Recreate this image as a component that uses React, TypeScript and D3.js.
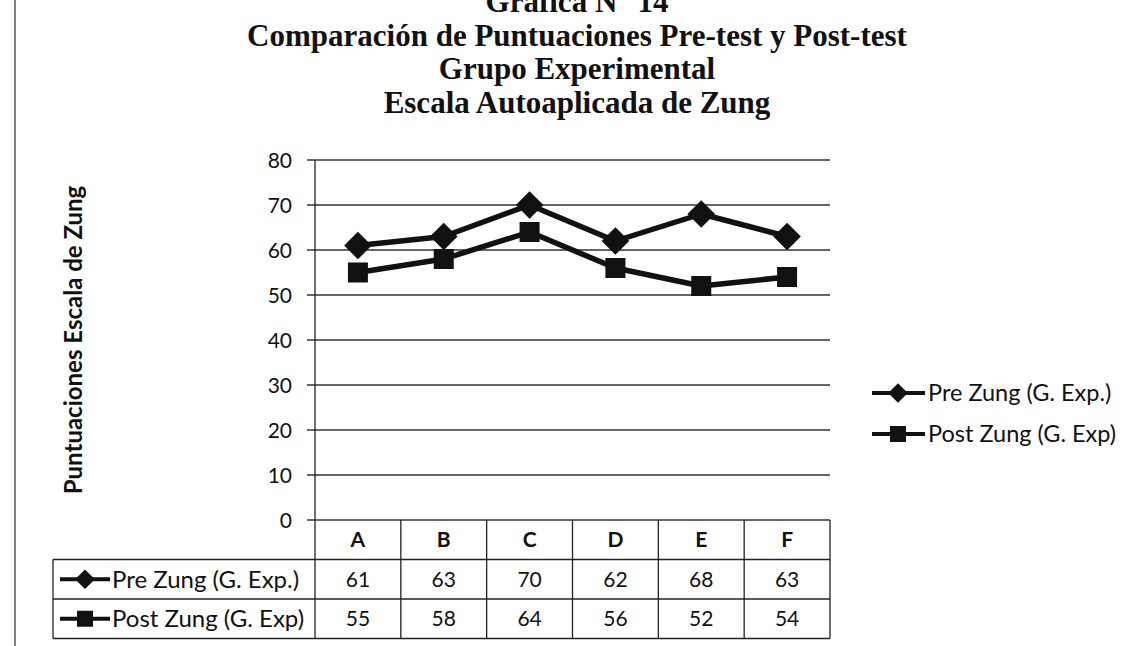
import React from "react";
import * as d3 from "d3";

const categories = ["A", "B", "C", "D", "E", "F"];
const preValues = [61, 63, 70, 62, 68, 63];
const postValues = [55, 58, 64, 56, 52, 54];
const yTicks = [0, 10, 20, 30, 40, 50, 60, 70, 80];
const seriesNames = ["Pre Zung (G. Exp.)", "Post Zung (G. Exp)"];
const titleLines = [
  "Gráfica N° 14",
  "Comparación de Puntuaciones Pre-test y Post-test",
  "Grupo Experimental",
  "Escala Autoaplicada de Zung",
];
const yTitle = "Puntuaciones Escala de Zung";

const W = 1127;
const H = 646;
const plot = { left: 315, right: 830, top: 160, bottom: 520 };
const rowH = 39.5;
const tableLeft = 53;
const sans = "Lato, 'Open Sans', sans-serif";
const ink = "#111";

function Marker({ kind, x, y, s }: { kind: string; x: number; y: number; s: number }) {
  if (kind === "diamond") {
    const p = d3.symbol(d3.symbolDiamond2, s * s * 1.1)();
    return <path d={p || ""} transform={`translate(${x},${y})`} fill={ink} />;
  }
  return <rect x={x - s / 2} y={y - s / 2} width={s} height={s} fill={ink} />;
}

export default function App() {
  const x = d3.scaleBand<string>().domain(categories).range([plot.left, plot.right]);
  const y = d3.scaleLinear().domain([0, 80]).range([plot.bottom, plot.top]);
  const cx = (c: string) => (x(c) as number) + x.bandwidth() / 2;
  const line = d3
    .line<number>()
    .x((_, i) => cx(categories[i]))
    .y((d) => y(d));

  const series = [
    { name: seriesNames[0], values: preValues, kind: "diamond", size: 21 },
    { name: seriesNames[1], values: postValues, kind: "square", size: 20 },
  ];

  const tableRowsY = [plot.bottom, plot.bottom + rowH, plot.bottom + 2 * rowH, plot.bottom + 3 * rowH];

  return (
    <svg
      width={W}
      height={H}
      style={{ position: "absolute", left: 0, top: 0, background: "#fff" }}
      xmlns="http://www.w3.org/2000/svg"
    >
      <rect width={W} height={H} fill="#fff" />
      {/* page edge */}
      <line x1={15} x2={15} y1={0} y2={H} stroke="#555" strokeWidth={1.5} />

      {/* titles */}
      {titleLines.map((t, i) => (
        <text
          key={t}
          x={577}
          y={12 + i * 33.5}
          textAnchor="middle"
          fontFamily="'Liberation Serif', 'Times New Roman', serif"
          fontWeight="bold"
          fontSize={31}
          fill={ink}
        >
          {t}
        </text>
      ))}

      {/* grid + ticks */}
      {yTicks.map((t) => (
        <g key={t}>
          <line
            x1={plot.left - 8}
            x2={plot.right}
            y1={y(t)}
            y2={y(t)}
            stroke="#333"
            strokeWidth={1.3}
          />
          <text
            x={292}
            y={y(t)}
            dy="0.36em"
            textAnchor="end"
            fontFamily={sans}
            fontSize={21}
            fill={ink}
          >
            {t}
          </text>
        </g>
      ))}
      {/* y axis */}
      <line x1={plot.left} x2={plot.left} y1={plot.top} y2={plot.bottom} stroke="#222" strokeWidth={1.3} />

      {/* y title */}
      <text
        transform={`translate(82,${(plot.top + plot.bottom) / 2}) rotate(-90)`}
        textAnchor="middle"
        fontFamily={sans}
        fontWeight="bold"
        fontSize={24}
        fill={ink}
      >
        {yTitle}
      </text>

      {/* series */}
      {series.map((s) => (
        <g key={s.name}>
          <path d={line(s.values) || ""} fill="none" stroke={ink} strokeWidth={5.5} strokeLinejoin="round" />
          {s.values.map((v, i) => (
            <Marker key={i} kind={s.kind} x={cx(categories[i])} y={y(v)} s={s.size} />
          ))}
        </g>
      ))}

      {/* data table */}
      <g stroke="#222" strokeWidth={1.3}>
        {tableRowsY.slice(1).map((ty) => (
          <line key={ty} x1={tableLeft} x2={plot.right} y1={ty} y2={ty} />
        ))}
        <line x1={tableLeft} x2={tableLeft} y1={tableRowsY[1]} y2={tableRowsY[3]} />
        {categories.map((c) => (
          <line key={c} x1={x(c) as number} x2={x(c) as number} y1={tableRowsY[0]} y2={tableRowsY[3]} />
        ))}
        <line x1={plot.right} x2={plot.right} y1={tableRowsY[0]} y2={tableRowsY[3]} />
      </g>
      {categories.map((c) => (
        <text
          key={c}
          x={cx(c)}
          y={(tableRowsY[0] + tableRowsY[1]) / 2}
          dy="0.36em"
          textAnchor="middle"
          fontFamily={sans}
          fontWeight="bold"
          fontSize={21}
          fill={ink}
        >
          {c}
        </text>
      ))}
      {series.map((s, r) => {
        const ry = (tableRowsY[r + 1] + tableRowsY[r + 2]) / 2;
        return (
          <g key={s.name}>
            <line x1={60} x2={110} y1={ry} y2={ry} stroke={ink} strokeWidth={4} />
            <Marker kind={s.kind} x={85} y={ry} s={s.kind === "diamond" ? 15 : 16} />
            <text x={112} y={ry} dy="0.36em" fontFamily={sans} fontSize={24} fill={ink}>
              {s.name}
            </text>
            {s.values.map((v, i) => (
              <text
                key={i}
                x={cx(categories[i])}
                y={ry}
                dy="0.36em"
                textAnchor="middle"
                fontFamily={sans}
                fontSize={21}
                fill={ink}
              >
                {v}
              </text>
            ))}
          </g>
        );
      })}

      {/* legend */}
      {series.map((s, r) => {
        const ly = 393 + r * 41;
        return (
          <g key={s.name}>
            <line x1={872} x2={925} y1={ly} y2={ly} stroke={ink} strokeWidth={4} />
            <Marker kind={s.kind} x={898} y={ly} s={s.kind === "diamond" ? 15 : 16} />
            <text x={928} y={ly} dy="0.36em" fontFamily={sans} fontSize={23.5} fill={ink}>
              {s.name}
            </text>
          </g>
        );
      })}
    </svg>
  );
}
